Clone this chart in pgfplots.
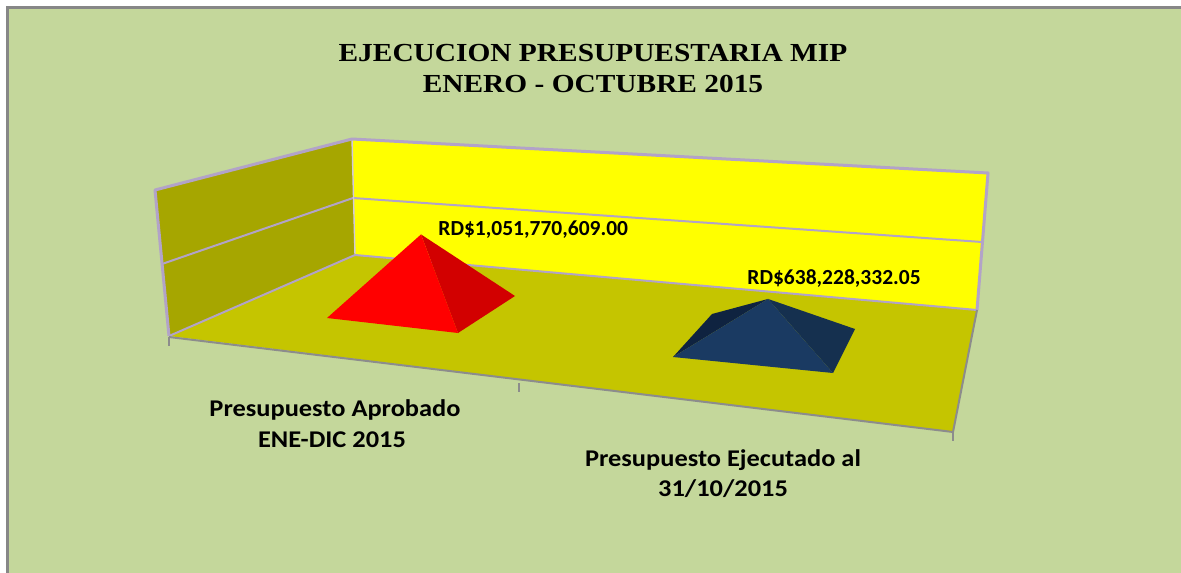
\documentclass[border=0pt]{standalone}
\usepackage{graphicx}
\usepackage{pgfplots}
\pgfplotsset{compat=1.18}
\usepackage{fontspec}
\setmainfont{Liberation Serif}
\newfontfamily\calfont{Carlito}
\definecolor{bgc}{HTML}{C4D79B}
\definecolor{bordc}{HTML}{878787}
\definecolor{wallL}{HTML}{A6A600}
\definecolor{wallB}{HTML}{FFFF00}
\definecolor{floorc}{HTML}{C5C500}
\definecolor{edgec}{HTML}{B2A3C8}
\definecolor{axgray}{HTML}{8C8C8C}
\definecolor{redF}{HTML}{FF0000}
\definecolor{redR}{HTML}{D20000}
\definecolor{bluF}{HTML}{1A3A62}
\definecolor{bluR}{HTML}{15304F}
\definecolor{bluL}{HTML}{0F2340}
\begin{document}
\begin{tikzpicture}
\begin{axis}[
  x={(0.5pt,0pt)}, y={(0pt,-0.5pt)}, z={(0pt,0.0345pt)},
  xmin=0, xmax=1181, ymin=0, ymax=572, zmin=0, zmax=1100,
  hide axis, clip=false,
]
\coordinate (O) at (axis cs:0,0,0);
\coordinate (E) at (axis cs:1181,572,0);
% background and border
\fill[white] (axis cs:-10,-10,0) rectangle (axis cs:1200,600,0);
\fill[bordc] (axis cs:6,6.5,0) rectangle (axis cs:1200,600,0);
\fill[bgc] (axis cs:8.7,9.3,0) rectangle (axis cs:1200,600,0);
% walls and floor
\fill[wallL] (axis cs:155,190,0) -- (axis cs:352,139,0) -- (axis cs:355,255,0) -- (axis cs:169,336,0) -- cycle;
\fill[wallB] (axis cs:352,139,0) -- (axis cs:988,173,0) -- (axis cs:977,310,0) -- (axis cs:355,255,0) -- cycle;
\fill[floorc] (axis cs:169,336,0) -- (axis cs:355,255,0) -- (axis cs:977,310,0) -- (axis cs:953,432,0) -- cycle;
% gridlines
\draw[edgec, line width=1pt] (axis cs:162,264,0) -- (axis cs:353,198,0) -- (axis cs:982,242,0);
% wall edges
\draw[edgec!60!white, line width=0.7pt] (axis cs:352,139,0) -- (axis cs:355,255,0);
\draw[edgec, line width=1pt] (axis cs:169,336,0) -- (axis cs:355,255,0) -- (axis cs:977,310,0);
\draw[edgec, line width=1.5pt, line join=round] (axis cs:169,336,0) -- (axis cs:155,190,0) -- (axis cs:352,139,0) -- (axis cs:988,173,0) -- (axis cs:977,310,0);
% floor front edge and ticks
\draw[axgray, line width=1pt] (axis cs:169,337,0) -- (axis cs:953,432,0) -- (axis cs:977,310,0);
\draw[axgray, line width=0.8pt] (axis cs:169,337,0) -- (axis cs:169,346,0);
\draw[axgray, line width=0.8pt] (axis cs:519,383,0) -- (axis cs:519,392,0);
\draw[axgray, line width=0.8pt] (axis cs:953,432,0) -- (axis cs:953,441,0);
% pyramid 1: Presupuesto Aprobado (value 1,051,770,609.00)
\addplot3[fill=redR, draw=none] table[row sep=\\, x=x, y=y, z expr=\thisrow{v}/1000000]
  {x y v\\ 458 333 0\\ 515 296 0\\ 421 307 1051770609.00\\};
\addplot3[fill=redF, draw=none] table[row sep=\\, x=x, y=y, z expr=\thisrow{v}/1000000]
  {x y v\\ 327 318 0\\ 458 333 0\\ 421 307 1051770609.00\\};
% pyramid 2: Presupuesto Ejecutado (value 638,228,332.05)
\addplot3[fill=bluL, draw=none] table[row sep=\\, x=x, y=y, z expr=\thisrow{v}/1000000]
  {x y v\\ 673 357 0\\ 712 314 0\\ 768 343 638228332.05\\};
\addplot3[fill=bluR, draw=none] table[row sep=\\, x=x, y=y, z expr=\thisrow{v}/1000000]
  {x y v\\ 833 373 0\\ 855 329 0\\ 768 343 638228332.05\\};
\addplot3[fill=bluF, draw=none] table[row sep=\\, x=x, y=y, z expr=\thisrow{v}/1000000]
  {x y v\\ 673 357 0\\ 833 373 0\\ 768 343 638228332.05\\};
% data labels
\node[anchor=base west, inner sep=0pt, font=\calfont\bfseries\fontsize{10.75pt}{12pt}\selectfont] at (axis cs:438,235,0) {RD\$1,051,770,609.00};
\node[anchor=base west, inner sep=0pt, font=\calfont\bfseries\fontsize{10.75pt}{12pt}\selectfont] at (axis cs:747,284,0) {RD\$638,228,332.05};
% category labels
\node[anchor=base, inner sep=0pt, font=\calfont\bfseries\fontsize{12pt}{14pt}\selectfont] at (axis cs:335,416,0) {\scalebox{1.1}[1]{Presupuesto Aprobado}};
\node[anchor=base, inner sep=0pt, font=\calfont\bfseries\fontsize{12pt}{14pt}\selectfont] at (axis cs:332,447,0) {\scalebox{1.1}[1]{ENE-DIC 2015}};
\node[anchor=base, inner sep=0pt, font=\calfont\bfseries\fontsize{12pt}{14pt}\selectfont] at (axis cs:723,466,0) {\scalebox{1.1}[1]{Presupuesto Ejecutado al}};
\node[anchor=base, inner sep=0pt, font=\calfont\bfseries\fontsize{12pt}{14pt}\selectfont] at (axis cs:723,496,0) {\scalebox{1.1}[1]{31/10/2015}};
% title
\node[anchor=base, inner sep=0pt, font=\bfseries\fontsize{13pt}{15pt}\selectfont] at (axis cs:593,62,0) {\scalebox{1.13}[1]{EJECUCION PRESUPUESTARIA MIP}};
\node[anchor=base, inner sep=0pt, font=\bfseries\fontsize{13pt}{15pt}\selectfont] at (axis cs:593,93,0) {\scalebox{1.13}[1]{ENERO - OCTUBRE 2015}};
\end{axis}
\pgfresetboundingbox
\path[use as bounding box] (O) rectangle (E);
\end{tikzpicture}
\end{document}
